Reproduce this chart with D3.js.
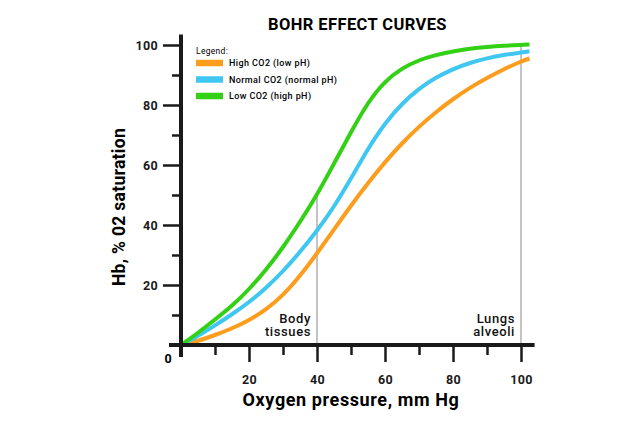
<!DOCTYPE html>
<html>
<head>
<meta charset="utf-8">
<script src="https://cdn.jsdelivr.net/npm/d3@7"></script>
<style>
  body { margin: 0; background: #fff; }
  svg { display: block; font-family: Roboto, "DejaVu Sans", sans-serif; }
</style>
</head>
<body>
<svg id="chart" width="640" height="427"></svg>
<script>
// oxygen pressure (mm Hg) and % saturation for each curve
var pressure  = [0, 5, 10, 15, 20, 25, 30, 35, 40, 45, 50, 55, 60, 65, 70, 75, 80, 85, 90, 95, 100, 102.5];
var lowCO2    = [0, 4, 8.5, 13, 18.5, 25, 32.5, 41, 50, 60.5, 71, 81, 88, 92.3, 95, 96.7, 97.9, 98.8, 99.4, 99.8, 100, 100.2];
var normalCO2 = [0, 3, 6.5, 10.2, 14.2, 19, 24.5, 31, 38, 46, 55.5, 65.5, 74, 80.5, 85.5, 89.2, 92, 94.1, 95.6, 96.7, 97.5, 97.9];
var highCO2   = [0, 1.3, 3.3, 5.5, 8.2, 11.8, 16.5, 23, 30.5, 38.5, 46.5, 54, 61, 67.3, 72.8, 77.7, 82, 85.8, 89, 92, 94.5, 95.5];

var xMajor = [20, 40, 60, 80, 100];
var xMinor = [10, 30, 50, 70, 90];
var yMajor = [20, 40, 60, 80, 100];
var yMinor = [10, 30, 50, 70, 90];

var series = [
  {name: 'High CO2 (low pH)', values: highCO2, color: '#fd9d1d'},
  {name: 'Normal CO2 (normal pH)', values: normalCO2, color: '#3fc7f2'},
  {name: 'Low CO2 (high pH)', values: lowCO2, color: '#33d116'}
];

// reference lines: body tissues at 40, lungs at 100 (drawn up to the low-CO2 curve)
var markers = [
  {x: 40, top: 50, lines: ['Body', 'tissues']},
  {x: 100, top: 100, lines: ['Lungs', 'alveoli']}
];

var svg = d3.select('#chart');

var x = d3.scaleLinear().domain([0, 100]).range([181, 521]);
var y = d3.scaleLinear().domain([0, 100]).range([345, 45]);

// title
svg.append('text')
  .attr('x', 357.5).attr('y', 30)
  .attr('text-anchor', 'middle')
  .attr('font-size', 16.5).attr('font-weight', 'bold')
  .attr('letter-spacing', 0.4)
  .text('BOHR EFFECT CURVES');

// grey marker lines
svg.selectAll('line.marker')
  .data(markers)
  .enter().append('line')
  .attr('class', 'marker')
  .attr('x1', function(d) { return x(d.x); })
  .attr('x2', function(d) { return x(d.x); })
  .attr('y1', y(0))
  .attr('y2', function(d) { return y(d.top); })
  .attr('stroke', '#c4c4c4')
  .attr('stroke-width', 2);

markers.forEach(function(m) {
  var t = svg.append('text')
    .attr('text-anchor', 'end')
    .attr('font-size', 13).attr('font-weight', 500)
    .attr('letter-spacing', 0.6)
    .attr('fill', '#111');
  m.lines.forEach(function(line, i) {
    t.append('tspan')
      .attr('x', x(m.x) - 6)
      .attr('y', y(0) - 22.5 + i * 13.5)
      .text(line);
  });
});

// curves
var line = d3.line()
  .x(function(d, i) { return x(pressure[i]); })
  .y(function(d) { return y(d); })
  .curve(d3.curveBasis);

svg.selectAll('path.curve')
  .data(series)
  .enter().append('path')
  .attr('class', 'curve')
  .attr('d', function(d) { return line(d.values); })
  .attr('fill', 'none')
  .attr('stroke', function(d) { return d.color; })
  .attr('stroke-width', 4);

// axes: minor ticks first, then major with labels
function styleAxis(g) {
  g.select('.domain').remove();
  g.selectAll('.tick line').attr('stroke', '#1a1a1a').attr('stroke-width', 2.5);
  g.selectAll('.tick text')
    .attr('fill', '#1a1a1a')
    .attr('font-size', 12.5).attr('font-weight', 'bold')
    .attr('letter-spacing', 0.3)
    .attr('font-family', 'Roboto, "DejaVu Sans", sans-serif');
}

svg.append('g')
  .attr('transform', 'translate(0,' + y(0) + ')')
  .call(d3.axisBottom(x).tickValues(xMinor).tickSize(10).tickFormat(''))
  .call(styleAxis);

svg.append('g')
  .attr('transform', 'translate(0,' + y(0) + ')')
  .call(d3.axisBottom(x).tickValues(xMajor).tickSize(17).tickPadding(13))
  .call(styleAxis);

svg.append('g')
  .attr('transform', 'translate(' + x(0) + ',0)')
  .call(d3.axisLeft(y).tickValues(yMinor).tickSize(9).tickFormat(''))
  .call(styleAxis);

svg.append('g')
  .attr('transform', 'translate(' + x(0) + ',0)')
  .call(d3.axisLeft(y).tickValues(yMajor).tickSize(18).tickPadding(5))
  .call(styleAxis);

// axis lines, extending a little past the origin
svg.append('line')
  .attr('x1', x(0) - 12).attr('x2', x(104))
  .attr('y1', y(0)).attr('y2', y(0))
  .attr('stroke', '#1a1a1a').attr('stroke-width', 4);

svg.append('line')
  .attr('x1', x(0)).attr('x2', x(0))
  .attr('y1', y(0) + 12).attr('y2', y(103.5))
  .attr('stroke', '#1a1a1a').attr('stroke-width', 4);

svg.append('text')
  .attr('x', x(0) - 13).attr('y', y(0) + 18)
  .attr('text-anchor', 'middle')
  .attr('font-size', 12.5).attr('font-weight', 'bold')
  .text('0');

// axis titles
svg.append('text')
  .attr('x', 351).attr('y', 406)
  .attr('text-anchor', 'middle')
  .attr('font-size', 18).attr('font-weight', 'bold')
  .attr('letter-spacing', 0.6)
  .text('Oxygen pressure, mm Hg');

svg.append('text')
  .attr('transform', 'translate(125,207) rotate(-90)')
  .attr('text-anchor', 'middle')
  .attr('font-size', 17.5).attr('font-weight', 'bold')
  .attr('letter-spacing', 0.3)
  .text('Hb, % 02 saturation');

// legend
var legend = svg.append('g').attr('transform', 'translate(196,51)');

legend.append('text')
  .attr('x', 0).attr('y', 3)
  .attr('font-size', 8.5)
  .attr('letter-spacing', 0.3)
  .text('Legend:');

var item = legend.selectAll('g.item')
  .data(series)
  .enter().append('g')
  .attr('class', 'item')
  .attr('transform', function(d, i) { return 'translate(0,' + (12 + i * 16.5) + ')'; });

item.append('rect')
  .attr('width', 27).attr('height', 6.5)
  .attr('y', -3.25)
  .attr('fill', function(d) { return d.color; });

item.append('text')
  .attr('x', 33).attr('y', 3)
  .attr('font-size', 9).attr('font-weight', 500)
  .attr('letter-spacing', 0.4)
  .text(function(d) { return d.name; });
</script>
</body>
</html>
